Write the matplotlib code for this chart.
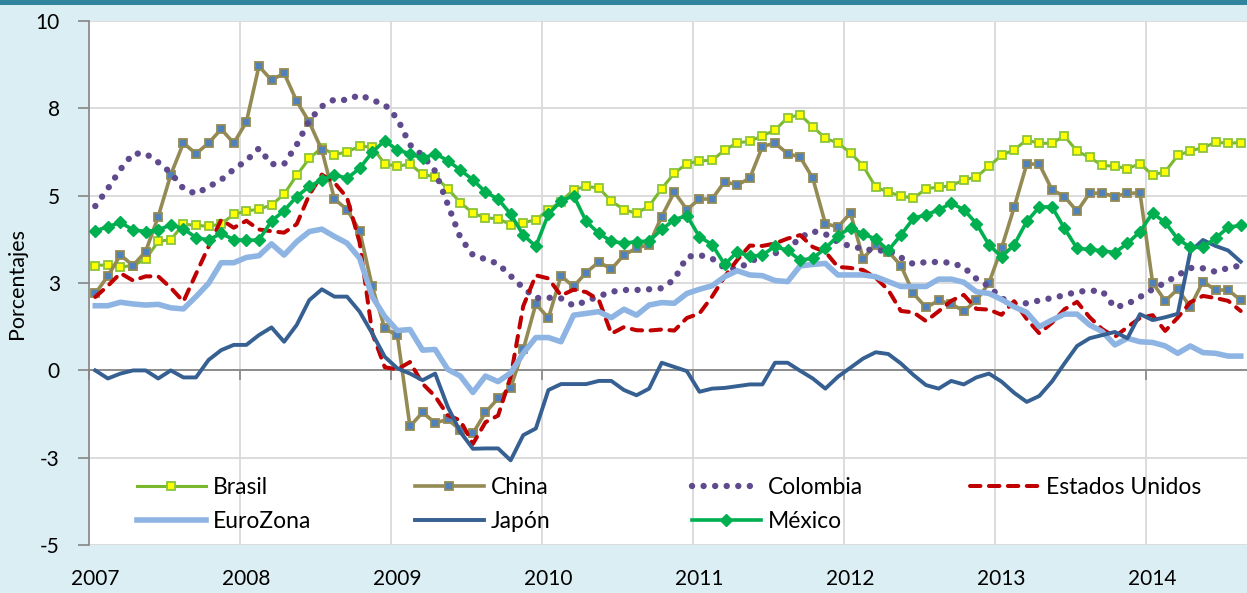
import numpy as np
import pandas as pd
import matplotlib
matplotlib.use('Agg')
import matplotlib.pyplot as plt
from matplotlib.patches import Rectangle
from matplotlib.legend import Legend

plt.rcParams['font.family'] = ['Lato', 'DejaVu Sans']

## data: annual inflation, monthly Jan 2007 - Aug 2014
months = pd.date_range('2007-01-01', periods=92, freq='MS')
years = ['2007', '2008', '2009', '2010', '2011', '2012', '2013', '2014']

brasil = [
  3.00, 3.02, 2.96, 3.00, 3.18, 3.69, 3.74, 4.18, 4.15, 4.12, 4.19, 4.46,
  4.56, 4.61, 4.73, 5.04, 5.58, 6.06, 6.37, 6.17, 6.25, 6.41, 6.39, 5.90,
  5.84, 5.90, 5.61, 5.53, 5.20, 4.80, 4.50, 4.36, 4.34, 4.17, 4.22, 4.31,
  4.59, 4.83, 5.17, 5.26, 5.22, 4.84, 4.60, 4.49, 4.70, 5.20, 5.64, 5.91,
  5.99, 6.01, 6.30, 6.51, 6.55, 6.71, 6.87, 7.23, 7.31, 6.97, 6.64, 6.50,
  6.22, 5.85, 5.24, 5.10, 4.99, 4.92, 5.20, 5.24, 5.28, 5.45, 5.53, 5.84,
  6.15, 6.31, 6.59, 6.49, 6.50, 6.70, 6.27, 6.09, 5.86, 5.84, 5.77, 5.91,
  5.59, 5.68, 6.15, 6.28, 6.37, 6.52, 6.50, 6.51,
]
china = [
  2.2, 2.7, 3.3, 3.0, 3.4, 4.4, 5.6, 6.5, 6.2, 6.5, 6.9, 6.5,
  7.1, 8.7, 8.3, 8.5, 7.7, 7.1, 6.3, 4.9, 4.6, 4.0, 2.4, 1.2,
  1.0, -1.6, -1.2, -1.5, -1.4, -1.7, -1.8, -1.2, -0.8, -0.5, 0.6, 1.9,
  1.5, 2.7, 2.4, 2.8, 3.1, 2.9, 3.3, 3.5, 3.6, 4.4, 5.1, 4.6,
  4.9, 4.9, 5.4, 5.3, 5.5, 6.4, 6.5, 6.2, 6.1, 5.5, 4.2, 4.1,
  4.5, 3.2, 3.6, 3.4, 3.0, 2.2, 1.8, 2.0, 1.9, 1.7, 2.0, 2.5,
  3.5, 4.66, 5.9, 5.9, 5.17, 4.97, 4.55, 5.07, 5.07, 4.97, 5.07, 5.07,
  2.51, 1.99, 2.32, 1.82, 2.54, 2.3, 2.3, 2.01,
]
colombia = [
  4.70, 5.20, 5.75, 6.20, 6.20, 5.95, 5.65, 5.20, 5.05, 5.25, 5.45, 5.75,
  6.00, 6.35, 5.90, 5.90, 6.45, 7.15, 7.55, 7.75, 7.73, 7.88, 7.73, 7.60,
  7.20, 6.45, 6.15, 5.70, 4.75, 3.80, 3.30, 3.18, 3.05, 2.70, 2.36, 2.07,
  2.08, 2.06, 1.85, 1.98, 2.12, 2.25, 2.30, 2.30, 2.32, 2.35, 2.60, 3.25,
  3.30, 3.20, 2.93, 2.90, 3.10, 3.28, 3.35, 3.45, 3.80, 3.98, 3.90, 3.67,
  3.55, 3.48, 3.42, 3.44, 3.23, 3.04, 3.10, 3.10, 3.08, 2.95, 2.62, 2.40,
  2.06, 1.92, 1.92, 2.00, 2.07, 2.15, 2.25, 2.28, 2.27, 1.80, 1.90, 2.10,
  2.32, 2.51, 2.72, 2.93, 2.92, 2.82, 2.93, 3.00,
]
estados_unidos = [
  2.10, 2.42, 2.78, 2.57, 2.69, 2.69, 2.36, 1.97, 2.76, 3.54, 4.31, 4.08,
  4.28, 4.03, 3.98, 3.94, 4.18, 5.02, 5.60, 5.37, 4.94, 3.66, 1.07, 0.09,
  0.03, 0.24, -0.38, -0.74, -1.28, -1.43, -2.10, -1.48, -1.29, -0.18, 1.84, 2.72,
  2.63, 2.14, 2.31, 2.24, 2.02, 1.05, 1.24, 1.15, 1.14, 1.17, 1.14, 1.50,
  1.63, 2.11, 2.68, 3.16, 3.57, 3.56, 3.63, 3.77, 3.87, 3.53, 3.39, 2.96,
  2.93, 2.87, 2.65, 2.30, 1.70, 1.66, 1.41, 1.69, 1.99, 2.16, 1.76, 1.74,
  1.59, 1.98, 1.47, 1.06, 1.36, 1.75, 1.96, 1.52, 1.18, 0.96, 1.24, 1.50,
  1.58, 1.13, 1.51, 1.95, 2.13, 2.07, 1.99, 1.70,
]
eurozona = [
  1.85, 1.85, 1.95, 1.90, 1.87, 1.89, 1.79, 1.76, 2.11, 2.49, 3.08, 3.08,
  3.23, 3.28, 3.62, 3.30, 3.68, 3.97, 4.04, 3.83, 3.64, 3.21, 2.11, 1.54,
  1.14, 1.17, 0.58, 0.60, 0.03, -0.16, -0.63, -0.16, -0.32, -0.07, 0.49, 0.94,
  0.94, 0.82, 1.58, 1.63, 1.68, 1.51, 1.75, 1.58, 1.87, 1.94, 1.92, 2.20,
  2.32, 2.42, 2.68, 2.85, 2.73, 2.71, 2.57, 2.54, 2.99, 3.03, 3.06, 2.73,
  2.73, 2.73, 2.68, 2.54, 2.40, 2.40, 2.40, 2.61, 2.61, 2.52, 2.25, 2.20,
  2.03, 1.82, 1.66, 1.25, 1.44, 1.61, 1.61, 1.30, 1.11, 0.73, 0.92, 0.82,
  0.80, 0.70, 0.49, 0.70, 0.51, 0.49, 0.41, 0.41,
]
japon = [
  0.00, -0.23, -0.09, 0.00, 0.00, -0.23, 0.00, -0.20, -0.20, 0.30, 0.58, 0.73,
  0.73, 1.01, 1.23, 0.82, 1.30, 2.01, 2.32, 2.11, 2.11, 1.68, 1.06, 0.39,
  0.06, -0.09, -0.28, -0.09, -1.04, -1.76, -2.24, -2.23, -2.23, -2.57, -1.85, -1.66,
  -0.56, -0.39, -0.39, -0.39, -0.30, -0.30, -0.56, -0.71, -0.52, 0.22, 0.10, -0.02,
  -0.61, -0.52, -0.50, -0.45, -0.40, -0.40, 0.22, 0.22, -0.01, -0.23, -0.52, -0.18,
  0.08, 0.34, 0.52, 0.47, 0.20, -0.13, -0.42, -0.52, -0.30, -0.40, -0.20, -0.09,
  -0.32, -0.64, -0.90, -0.73, -0.32, 0.20, 0.70, 0.92, 1.01, 1.10, 0.92, 1.61,
  1.44, 1.52, 1.62, 3.40, 3.73, 3.56, 3.43, 3.11,
]
mexico = [
  3.99, 4.11, 4.23, 4.02, 3.97, 4.02, 4.16, 4.05, 3.80, 3.73, 3.92, 3.74,
  3.72, 3.73, 4.27, 4.57, 4.97, 5.26, 5.45, 5.60, 5.49, 5.78, 6.24, 6.57,
  6.30, 6.20, 6.06, 6.20, 6.00, 5.73, 5.45, 5.10, 4.90, 4.47, 3.87, 3.55,
  4.47, 4.84, 5.00, 4.26, 3.92, 3.69, 3.64, 3.68, 3.70, 4.03, 4.31, 4.43,
  3.82, 3.60, 3.03, 3.39, 3.26, 3.30, 3.55, 3.43, 3.15, 3.21, 3.49, 3.85,
  4.08, 3.90, 3.76, 3.43, 3.87, 4.35, 4.45, 4.59, 4.78, 4.60, 4.20, 3.59,
  3.25, 3.59, 4.26, 4.67, 4.68, 4.06, 3.49, 3.46, 3.42, 3.37, 3.63, 3.97,
  4.50, 4.23, 3.76, 3.52, 3.52, 3.78, 4.09, 4.15,
]

y_ticks = [-5, -2.5, 0, 2.5, 5, 7.5, 10]
y_labels = ['-5', '-3', '0', '3', '5', '8', '10']

# one category per month, points in the middle of each category
x = np.arange(len(months)) + 0.5

W, H = 1247, 593
fig = plt.figure(figsize=(W / 100, H / 100), dpi=100)
fig.patch.set_facecolor('#DAEEF3')
fig.add_artist(Rectangle((0, 1 - 5 / H), 1, 5 / H, transform=fig.transFigure,
                         color='#31859C', lw=0))
ax = fig.add_axes([89 / W, 47.7 / H, 1158 / W, 524.6 / H])
ax.set_facecolor('white')

l_br, = ax.plot(x, brasil, color='#7AB82E', lw=2.2, marker='s', ms=5.4,
                mfc='#FFFF00', mec='#8CC43C', mew=1.3, label='Brasil', zorder=3)
l_ch, = ax.plot(x, china, color='#948A54', lw=2.6, marker='s', ms=5.4,
                mfc='#4F81BD', mec='#948A54', mew=1.3, label='China', zorder=3)
l_co, = ax.plot(x, colombia, color='#604A8E', lw=4.6, ls=(0, (0.01, 1.8)),
                dash_capstyle='round', label='Colombia', zorder=3)
l_us, = ax.plot(x, estados_unidos, color='#C00000', lw=2.9, ls=(0, (2.6, 2.1)),
                dash_capstyle='round', label='Estados Unidos', zorder=3)
l_eu, = ax.plot(x, eurozona, color='#8DB4E2', lw=4.0, label='EuroZona', zorder=3)
l_ja, = ax.plot(x, japon, color='#366092', lw=2.8, label='Japón', zorder=3)
l_mx, = ax.plot(x, mexico, color='#00B050', lw=2.6, marker='D', ms=6.2,
                mfc='#00B050', mec='#00B050', label='México', zorder=3)

ax.set_xlim(0, len(months))
ax.set_ylim(-5, 10)
ax.set_yticks(y_ticks, y_labels)
ax.set_xticks(np.arange(0, len(months), 12))
ax.tick_params(axis='x', labelbottom=False, direction='out', length=7,
               color='#868686', width=1.2)
ax.tick_params(axis='y', direction='out', length=8, color='#868686', width=1.2,
               pad=13, labelsize=15)
ax.set_axisbelow(True)
ax.grid(True, color='#D9D9D9', lw=1.3)

for s in ['top', 'right']:
  ax.spines[s].set_visible(False)
ax.spines['left'].set_color('#868686')
ax.spines['left'].set_linewidth(1.2)
ax.spines['bottom'].set_position(('data', 0))
ax.spines['bottom'].set_color('#868686')
ax.spines['bottom'].set_linewidth(1.3)

# year labels sit under the plot area, centred on January
sec = ax.secondary_xaxis(0)
sec.set_xticks(np.arange(0, len(months), 12) + 0.5, years)
sec.tick_params(length=0, pad=17, labelsize=15)
sec.spines['bottom'].set_visible(False)

ax.set_ylabel('Porcentajes', fontsize=15.5)
ax.yaxis.set_label_coords(-62 / 1158, 0.5)

# legend: 4 columns at fixed positions, like the spreadsheet
columns = [[l_br, l_eu], [l_ch, l_ja], [l_co, l_mx], [l_us]]
col_x = [137, 415, 692, 970]
for hs, cx in zip(columns, col_x):
  leg = Legend(ax, hs, [h.get_label() for h in hs], loc='upper left',
               bbox_to_anchor=((cx - 89) / 1158, 0.131),
               frameon=False, borderpad=0, borderaxespad=0,
               handlelength=3.0, handletextpad=0.3, labelspacing=0.6,
               fontsize=16.5)
  ax.add_artist(leg)

fig.savefig('out.png', dpi=100, facecolor=fig.get_facecolor())
